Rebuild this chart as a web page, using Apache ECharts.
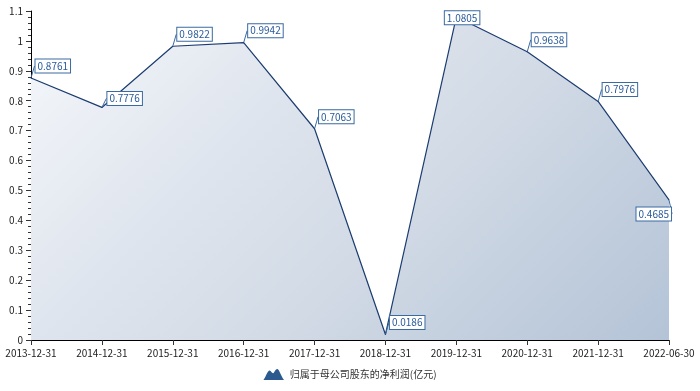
<!DOCTYPE html>
<html><head><meta charset="utf-8">
<script src="https://cdn.jsdelivr.net/npm/echarts@6/dist/echarts.min.js"></script>
<style>html,body{margin:0;padding:0;background:#fff}#c{width:700px;height:391px}</style>
</head><body><div id="c"></div>
<script>
const categories = ['2013-12-31','2014-12-31','2015-12-31','2016-12-31','2017-12-31','2018-12-31','2019-12-31','2020-12-31','2021-12-31','2022-06-30'];
const netProfit = [0.8761,0.7776,0.9822,0.9942,0.7063,0.0186,1.0805,0.9638,0.7976,0.4685];
const seriesName = '归属于母公司股东的净利润(亿元)';
const labelShift = {6:[-16,1], 9:[-37,14], 1:[1,-9]};
const font = '"Noto Sans CJK SC", "Noto Sans", sans-serif';
const chart = echarts.init(document.getElementById('c'));
chart.setOption({
  animation:false,
  textStyle:{fontFamily:font},
  grid:{left:31,right:31,top:11,bottom:51},
  legend:{bottom:6,left:'center',itemWidth:22,itemHeight:11,itemGap:8,
    textStyle:{fontSize:10,color:'#333',fontFamily:font},
    data:[{name:seriesName,icon:'path://M0,20 C4,14 6,6 9,6 C11,6 12,10 14,10 C16,10 17,4 20,4 C23,4 26,16 30,20 Z',itemStyle:{color:'#2c5a8e',opacity:1}}]},
  xAxis:{type:'category',data:categories,boundaryGap:false,
    axisLine:{lineStyle:{color:'#000',width:1}},
    axisTick:{show:true,alignWithLabel:true,lineStyle:{color:'#333'}},
    axisLabel:{fontSize:10,color:'#222',margin:8,interval:0,fontFamily:font},
    splitLine:{show:false}},
  yAxis:{type:'value',min:0,max:1.1,interval:0.1,
    axisLine:{show:true,lineStyle:{color:'#000'}},
    axisTick:{show:true,lineStyle:{color:'#333'}},
    minorTick:{show:true,splitNumber:5,length:3,lineStyle:{color:'#333'}},
    axisLabel:{fontSize:10,color:'#222',margin:8,fontFamily:font},
    splitLine:{show:false}},
  series:[{name:seriesName,type:'line',data:netProfit,
    symbol:'circle',symbolSize:1,
    itemStyle:{color:'#1c3c70'},
    lineStyle:{color:'#1c3c70',width:1.2},
    areaStyle:{opacity:1,color:new echarts.graphic.LinearGradient(31,11,526,506,[{offset:0,color:'#f6f8fb'},{offset:0.33,color:'#dfe5ee'},{offset:0.56,color:'#d3dbe6'},{offset:1,color:'#b2c2d6'}],true)},
    label:{show:true,position:'right',distance:4,fontSize:10,color:'#2a5a9a',
      backgroundColor:'#fff',borderColor:'#3a6aa0',borderWidth:1,padding:[2,2,1,2],fontFamily:font},
    labelLine:{show:true,lineStyle:{color:'#3a6aa0',width:1}},
    labelLayout:function(p){const s=labelShift[p.dataIndex]||[0,-12];return {dx:s[0],dy:s[1]};}
  }]
});
</script></body></html>
